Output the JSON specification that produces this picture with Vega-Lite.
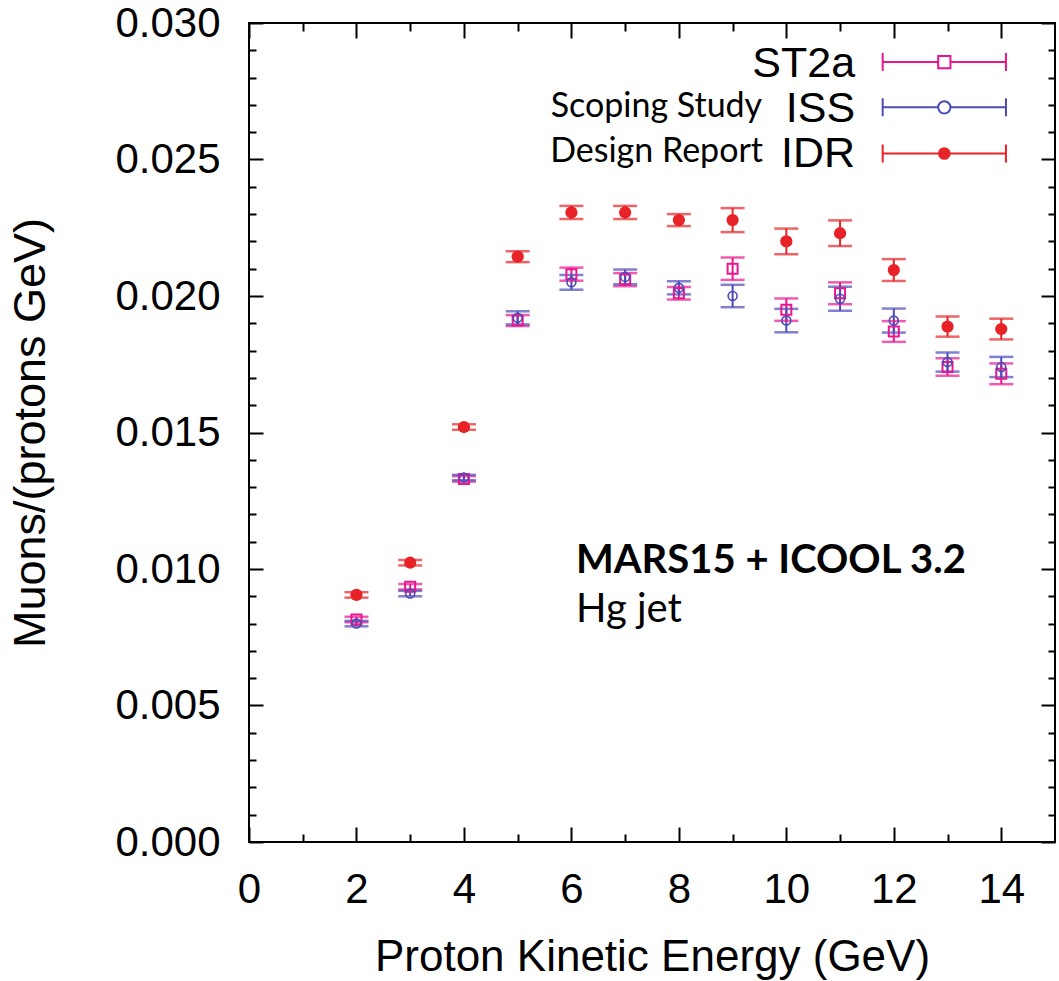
{
  "$schema": "https://vega.github.io/schema/vega-lite/v6.json",
  "width": 806,
  "height": 819,
  "autosize": {"type": "none"},
  "padding": {"left": 249, "top": 23, "right": 4, "bottom": 139},
  "background": "white",
  "config": {"view": {"stroke": "black", "strokeWidth": 2}, "font": "Liberation Sans"},
  "datasets": {
    "pts": [
      {"s": "ST2a", "E": 2, "y": 0.00815, "lo": 0.00805, "hi": 0.00825},
      {"s": "ST2a", "E": 3, "y": 0.00935, "lo": 0.00925, "hi": 0.00945},
      {"s": "ST2a", "E": 4, "y": 0.0133, "lo": 0.0132, "hi": 0.0134},
      {"s": "ST2a", "E": 5, "y": 0.0191, "lo": 0.0189, "hi": 0.0193},
      {"s": "ST2a", "E": 6, "y": 0.0208, "lo": 0.02056, "hi": 0.02104},
      {"s": "ST2a", "E": 7, "y": 0.0206, "lo": 0.02036, "hi": 0.02084},
      {"s": "ST2a", "E": 8, "y": 0.0201, "lo": 0.01987, "hi": 0.02033},
      {"s": "ST2a", "E": 9, "y": 0.0210, "lo": 0.02059, "hi": 0.02141},
      {"s": "ST2a", "E": 10, "y": 0.0195, "lo": 0.01909, "hi": 0.01991},
      {"s": "ST2a", "E": 11, "y": 0.0201, "lo": 0.0197, "hi": 0.0205},
      {"s": "ST2a", "E": 12, "y": 0.0187, "lo": 0.01832, "hi": 0.01908},
      {"s": "ST2a", "E": 13, "y": 0.0174, "lo": 0.01708, "hi": 0.01772},
      {"s": "ST2a", "E": 14, "y": 0.01715, "lo": 0.01677, "hi": 0.01753},
      {"s": "ISS", "E": 2, "y": 0.0080, "lo": 0.0079, "hi": 0.0081},
      {"s": "ISS", "E": 3, "y": 0.0091, "lo": 0.009, "hi": 0.0092},
      {"s": "ISS", "E": 4, "y": 0.01335, "lo": 0.01325, "hi": 0.01345},
      {"s": "ISS", "E": 5, "y": 0.0192, "lo": 0.01896, "hi": 0.01944},
      {"s": "ISS", "E": 6, "y": 0.0205, "lo": 0.02023, "hi": 0.02077},
      {"s": "ISS", "E": 7, "y": 0.0207, "lo": 0.02043, "hi": 0.02097},
      {"s": "ISS", "E": 8, "y": 0.0203, "lo": 0.02006, "hi": 0.02054},
      {"s": "ISS", "E": 9, "y": 0.0200, "lo": 0.01959, "hi": 0.02041},
      {"s": "ISS", "E": 10, "y": 0.0191, "lo": 0.01867, "hi": 0.01953},
      {"s": "ISS", "E": 11, "y": 0.0199, "lo": 0.01946, "hi": 0.02034},
      {"s": "ISS", "E": 12, "y": 0.0191, "lo": 0.01866, "hi": 0.01954},
      {"s": "ISS", "E": 13, "y": 0.01758, "lo": 0.01723, "hi": 0.01793},
      {"s": "ISS", "E": 14, "y": 0.0174, "lo": 0.01703, "hi": 0.01777},
      {"s": "IDR", "E": 2, "y": 0.00905, "lo": 0.00895, "hi": 0.00915},
      {"s": "IDR", "E": 3, "y": 0.01023, "lo": 0.01013, "hi": 0.01033},
      {"s": "IDR", "E": 4, "y": 0.0152, "lo": 0.0151, "hi": 0.0153},
      {"s": "IDR", "E": 5, "y": 0.02144, "lo": 0.02124, "hi": 0.02164},
      {"s": "IDR", "E": 6, "y": 0.02306, "lo": 0.02282, "hi": 0.0233},
      {"s": "IDR", "E": 7, "y": 0.02306, "lo": 0.02282, "hi": 0.0233},
      {"s": "IDR", "E": 8, "y": 0.02278, "lo": 0.02256, "hi": 0.023},
      {"s": "IDR", "E": 9, "y": 0.02278, "lo": 0.02234, "hi": 0.02322},
      {"s": "IDR", "E": 10, "y": 0.0220, "lo": 0.02153, "hi": 0.02247},
      {"s": "IDR", "E": 11, "y": 0.0223, "lo": 0.02183, "hi": 0.02277},
      {"s": "IDR", "E": 12, "y": 0.02095, "lo": 0.02055, "hi": 0.02135},
      {"s": "IDR", "E": 13, "y": 0.01888, "lo": 0.01851, "hi": 0.01925},
      {"s": "IDR", "E": 14, "y": 0.01879, "lo": 0.01841, "hi": 0.01917}
    ]
  },
  "data": {"name": "pts"},
  "resolve": {"axis": {"x": "independent", "y": "independent"}},
  "layer": [
    {
      "mark": {"type": "rule", "strokeWidth": 2},
      "encoding": {
        "x": {"field": "E", "type": "quantitative", "scale": {"domain": [0, 15], "nice": false},
          "axis": {"orient": "bottom", "values": [0,2,4,6,8,10,12,14], "domain": false, "grid": false,
            "tickSize": -15, "tickWidth": 2, "tickColor": "black",
            "labelFont": "Liberation Sans", "labelFontSize": 42, "labelColor": "black", "labelPadding": 42,
            "labelFlush": false, "labelOverlap": false,
            "title": "Proton Kinetic Energy (GeV)", "titleFont": "Liberation Sans", "titleFontSize": 44,
            "titleFontWeight": "normal", "titleColor": "black", "titlePadding": 25}},
        "y": {"field": "lo", "type": "quantitative", "scale": {"domain": [0, 0.03], "nice": false},
          "axis": {"orient": "left", "values": [0,0.005,0.01,0.015,0.02,0.025,0.03],
            "domain": false, "grid": false, "format": ".3f",
            "tickSize": -14, "tickWidth": 2, "tickColor": "black",
            "labelFont": "Liberation Sans", "labelFontSize": 42, "labelColor": "black", "labelPadding": 43,
            "labelFlush": false, "labelOverlap": false,
            "title": "Muons/(protons GeV)", "titleFont": "Liberation Sans", "titleFontSize": 45,
            "titleFontWeight": "normal", "titleColor": "black", "titlePadding": 61}},
        "y2": {"field": "hi"},
        "color": {"field": "s", "type": "nominal", "scale": {"domain": ["ST2a", "ISS", "IDR"], "range": ["#e8178f", "#4b4bb8", "#e82327"]}, "legend": null}
      }
    },
    {
      "mark": {"type": "tick", "orient": "horizontal", "size": 24, "thickness": 2.5},
      "encoding": {
        "x": {"field": "E", "type": "quantitative", "axis": null},
        "y": {"field": "lo", "type": "quantitative", "axis": null},
        "color": {"field": "s", "type": "nominal", "legend": null}
      }
    },
    {
      "mark": {"type": "tick", "orient": "horizontal", "size": 24, "thickness": 2.5},
      "encoding": {
        "x": {"field": "E", "type": "quantitative", "axis": null},
        "y": {"field": "hi", "type": "quantitative", "axis": null},
        "color": {"field": "s", "type": "nominal", "legend": null}
      }
    },
    {
      "transform": [{"filter": "datum.s == 'ST2a'"}],
      "mark": {"type": "point", "shape": "square", "filled": false, "size": 100, "strokeWidth": 2, "color": "#e8178f", "opacity": 1},
      "encoding": {
        "x": {"field": "E", "type": "quantitative", "axis": null},
        "y": {"field": "y", "type": "quantitative", "axis": null}
      }
    },
    {
      "transform": [{"filter": "datum.s == 'ISS'"}],
      "mark": {"type": "point", "shape": "circle", "filled": false, "size": 80, "strokeWidth": 1.6, "color": "#4b4bb8", "opacity": 1},
      "encoding": {
        "x": {"field": "E", "type": "quantitative", "axis": null},
        "y": {"field": "y", "type": "quantitative", "axis": null}
      }
    },
    {
      "transform": [{"filter": "datum.s == 'IDR'"}],
      "mark": {"type": "point", "shape": "circle", "filled": true, "size": 150, "color": "#e82327", "opacity": 1},
      "encoding": {
        "x": {"field": "E", "type": "quantitative", "axis": null},
        "y": {"field": "y", "type": "quantitative", "axis": null}
      }
    },
    {
      "mark": {"type": "point", "opacity": 0},
      "encoding": {
        "x": {"field": "E", "type": "quantitative",
          "axis": {"orient": "top", "values": [0,2,4,6,8,10,12,14], "domain": false, "grid": false, "labels": false, "title": null,
            "tickSize": -15, "tickWidth": 2, "tickColor": "black"}},
        "y": {"field": "y", "type": "quantitative",
          "axis": {"orient": "right", "values": [0,0.005,0.01,0.015,0.02,0.025,0.03],
            "domain": false, "grid": false, "labels": false, "title": null,
            "tickSize": -14, "tickWidth": 2, "tickColor": "black"}}
      }
    },
    {
      "mark": {"type": "point", "opacity": 0},
      "encoding": {
        "x": {"field": "E", "type": "quantitative",
          "axis": {"orient": "bottom", "values": [1,3,5,7,9,11,13], "domain": false, "grid": false, "labels": false, "title": null,
            "tickSize": -8, "tickWidth": 2, "tickColor": "black"}},
        "y": {"field": "y", "type": "quantitative",
          "axis": {"orient": "left", "values": [0.001,0.002,0.003,0.004,0.006,0.007,0.008,0.009,0.011,0.012,0.013,0.014,0.016,0.017,0.018,0.019,0.021,0.022,0.023,0.024,0.026,0.027,0.028,0.029],
            "domain": false, "grid": false, "labels": false, "title": null,
            "tickSize": -7, "tickWidth": 2, "tickColor": "black"}}
      }
    },
    {
      "mark": {"type": "point", "opacity": 0},
      "encoding": {
        "x": {"field": "E", "type": "quantitative",
          "axis": {"orient": "top", "values": [1,3,5,7,9,11,13], "domain": false, "grid": false, "labels": false, "title": null,
            "tickSize": -8, "tickWidth": 2, "tickColor": "black"}},
        "y": {"field": "y", "type": "quantitative",
          "axis": {"orient": "right", "values": [0.001,0.002,0.003,0.004,0.006,0.007,0.008,0.009,0.011,0.012,0.013,0.014,0.016,0.017,0.018,0.019,0.021,0.022,0.023,0.024,0.026,0.027,0.028,0.029],
            "domain": false, "grid": false, "labels": false, "title": null,
            "tickSize": -7, "tickWidth": 2, "tickColor": "black"}}
      }
    },
    {
      "data": {"values": [{}]},
      "mark": {"type": "point", "shape": "M-1,0H1M-1,-0.146V0.146M1,-0.146V0.146", "filled": false, "size": 15203, "strokeWidth": 2, "color": "#e8178f", "opacity": 1},
      "encoding": {"x": {"datum": 12.94, "type": "quantitative", "axis": null}, "y": {"datum": 0.02857, "type": "quantitative", "axis": null}}
    },
    {
      "data": {"values": [{}]},
      "mark": {"type": "point", "shape": "M-1,0H1M-1,-0.146V0.146M1,-0.146V0.146", "filled": false, "size": 15203, "strokeWidth": 2, "color": "#4b4bb8", "opacity": 1},
      "encoding": {"x": {"datum": 12.94, "type": "quantitative", "axis": null}, "y": {"datum": 0.02691, "type": "quantitative", "axis": null}}
    },
    {
      "data": {"values": [{}]},
      "mark": {"type": "point", "shape": "M-1,0H1M-1,-0.146V0.146M1,-0.146V0.146", "filled": false, "size": 15203, "strokeWidth": 2, "color": "#e82327", "opacity": 1},
      "encoding": {"x": {"datum": 12.94, "type": "quantitative", "axis": null}, "y": {"datum": 0.02522, "type": "quantitative", "axis": null}}
    },
    {
      "data": {"values": [{}]},
      "mark": {"type": "point", "shape": "square", "filled": true, "fill": "white", "stroke": "#e8178f", "size": 150, "strokeWidth": 2, "opacity": 1},
      "encoding": {"x": {"datum": 12.94, "type": "quantitative", "axis": null}, "y": {"datum": 0.02857, "type": "quantitative", "axis": null}}
    },
    {
      "data": {"values": [{}]},
      "mark": {"type": "point", "shape": "circle", "filled": true, "fill": "white", "stroke": "#4b4bb8", "size": 150, "strokeWidth": 2, "opacity": 1},
      "encoding": {"x": {"datum": 12.94, "type": "quantitative", "axis": null}, "y": {"datum": 0.02691, "type": "quantitative", "axis": null}}
    },
    {
      "data": {"values": [{}]},
      "mark": {"type": "point", "shape": "circle", "filled": true, "color": "#e82327", "size": 160, "opacity": 1},
      "encoding": {"x": {"datum": 12.94, "type": "quantitative", "axis": null}, "y": {"datum": 0.02522, "type": "quantitative", "axis": null}}
    },
    {
      "data": {"values": [{}]},
      "mark": {"type": "text", "text": "ST2a", "align": "right", "baseline": "alphabetic", "font": "Liberation Sans", "fontSize": 43, "color": "black"},
      "encoding": {"x": {"datum": 11.28, "type": "quantitative", "axis": null}, "y": {"datum": 0.02802, "type": "quantitative", "axis": null}}
    },
    {
      "data": {"values": [{}]},
      "mark": {"type": "text", "text": "ISS", "align": "right", "baseline": "alphabetic", "font": "Liberation Sans", "fontSize": 43, "color": "black"},
      "encoding": {"x": {"datum": 11.28, "type": "quantitative", "axis": null}, "y": {"datum": 0.026374, "type": "quantitative", "axis": null}}
    },
    {
      "data": {"values": [{}]},
      "mark": {"type": "text", "text": "IDR", "align": "right", "baseline": "alphabetic", "font": "Liberation Sans", "fontSize": 43, "color": "black"},
      "encoding": {"x": {"datum": 11.28, "type": "quantitative", "axis": null}, "y": {"datum": 0.024725, "type": "quantitative", "axis": null}}
    },
    {
      "data": {"values": [{}]},
      "mark": {"type": "text", "text": "Scoping Study", "align": "right", "baseline": "alphabetic", "font": "Lato", "fontSize": 34, "color": "black"},
      "encoding": {"x": {"datum": 9.55, "type": "quantitative", "axis": null}, "y": {"datum": 0.026557, "type": "quantitative", "axis": null}}
    },
    {
      "data": {"values": [{}]},
      "mark": {"type": "text", "text": "Design Report", "align": "right", "baseline": "alphabetic", "font": "Lato", "fontSize": 34, "color": "black"},
      "encoding": {"x": {"datum": 9.566, "type": "quantitative", "axis": null}, "y": {"datum": 0.024908, "type": "quantitative", "axis": null}}
    },
    {
      "data": {"values": [{}]},
      "mark": {"type": "text", "text": "MARS15 + ICOOL 3.2", "align": "left", "baseline": "alphabetic", "font": "Lato", "fontWeight": "bold", "fontSize": 40, "color": "black"},
      "encoding": {"x": {"datum": 6.086, "type": "quantitative", "axis": null}, "y": {"datum": 0.009853, "type": "quantitative", "axis": null}}
    },
    {
      "data": {"values": [{}]},
      "mark": {"type": "text", "text": "Hg jet", "align": "left", "baseline": "alphabetic", "font": "Lato", "fontSize": 40, "color": "black"},
      "encoding": {"x": {"datum": 6.086, "type": "quantitative", "axis": null}, "y": {"datum": 0.008059, "type": "quantitative", "axis": null}}
    }
  ]
}
